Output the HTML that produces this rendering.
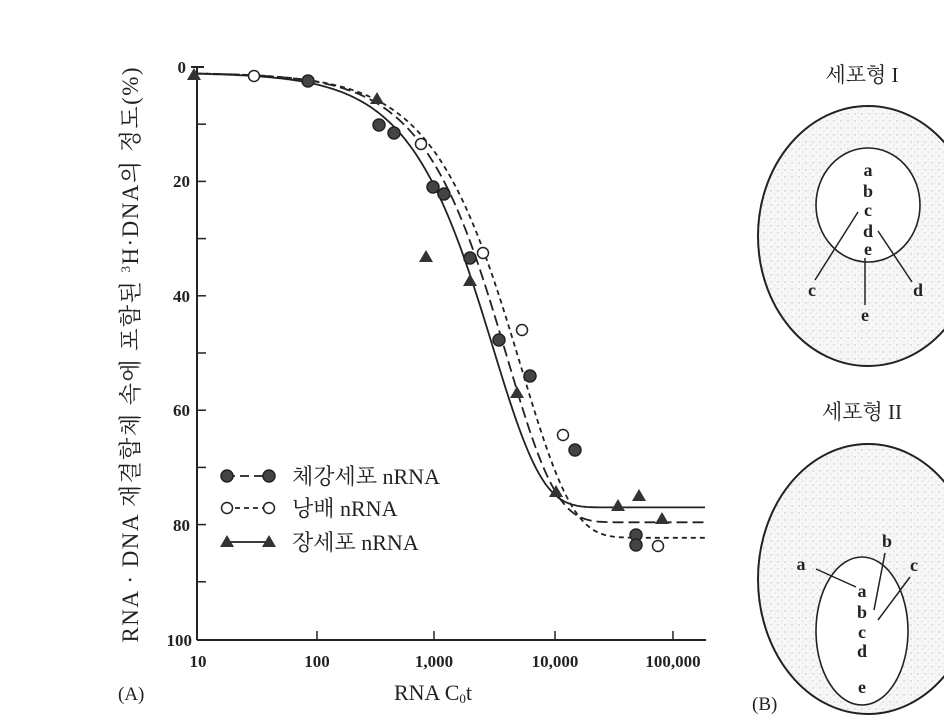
<!DOCTYPE html>
<html><head><meta charset="utf-8"><style>
body{margin:0;background:#fff;}
svg{display:block;font-family:"Liberation Serif","Noto Serif CJK SC","Noto Sans CJK KR",serif;}
</style></head><body>
<svg id="s" width="944" height="726" viewBox="0 0 944 726" xmlns="http://www.w3.org/2000/svg">
<defs>
<pattern id="dots" width="7" height="7" patternUnits="userSpaceOnUse">
<rect width="7" height="7" fill="#f7f7f7"/>
<circle cx="1" cy="2" r="0.6" fill="#aaa"/><circle cx="5" cy="5" r="0.5" fill="#bbb"/><circle cx="4" cy="1" r="0.4" fill="#ccc"/>
</pattern>
</defs>
<g stroke="#222" stroke-width="2" fill="none">
<line x1="197" y1="67" x2="197" y2="640"/>
<line x1="197" y1="640" x2="706" y2="640"/>
<line x1="191" y1="67" x2="204" y2="67"/>
</g>
<g id="ticks" stroke="#222" stroke-width="1.5"></g>
<g font-size="17" font-weight="bold" fill="#222" text-anchor="end">
<text x="186" y="73">0</text><text x="190" y="187">20</text><text x="190" y="302">40</text>
<text x="190" y="416">60</text><text x="190" y="531">80</text><text x="192" y="646">100</text>
</g>
<g font-size="17" font-weight="bold" fill="#222" text-anchor="middle">
<text x="198" y="667">10</text><text x="317" y="667">100</text><text x="434" y="667">1,000</text>
<text x="555" y="667">10,000</text><text x="673" y="667">100,000</text>
</g>
<text x="433" y="700" font-size="22" text-anchor="middle" fill="#222">RNA C<tspan font-size="13" dy="3">0</tspan><tspan dy="-3">t</tspan></text>
<text x="118" y="700" font-size="19" fill="#222">(A)</text>
<text transform="translate(138,355) rotate(-90)" font-size="23" text-anchor="middle" fill="#222" textLength="575" lengthAdjust="spacing">RNA · DNA 재결합체 속에 포함된 <tspan font-size="13" dy="-8">3</tspan><tspan dy="8">H·DNA의 정도(%)</tspan></text>
<g id="curves" fill="none" stroke="#222" stroke-width="1.8"></g>
<g id="pts"></g>
<!-- legend -->
<g stroke="#222" stroke-width="1.8">
<line x1="226" y1="476" x2="268" y2="476" stroke-dasharray="9,5"/>
<line x1="226" y1="508" x2="268" y2="508" stroke-dasharray="5,4"/>
<line x1="226" y1="542" x2="268" y2="542"/>
</g>
<circle cx="227" cy="476" r="6" fill="#444" stroke="#222" stroke-width="1.5"/>
<circle cx="269" cy="476" r="6" fill="#444" stroke="#222" stroke-width="1.5"/>
<circle cx="227" cy="508" r="5.5" fill="#fff" stroke="#222" stroke-width="1.5"/>
<circle cx="269" cy="508" r="5.5" fill="#fff" stroke="#222" stroke-width="1.5"/>
<polygon points="227,535 220,547 234,547" fill="#333"/>
<polygon points="269,535 262,547 276,547" fill="#333"/>
<g font-size="22" fill="#222">
<text x="292" y="484">체강세포 nRNA</text>
<text x="292" y="516">낭배 nRNA</text>
<text x="292" y="550">장세포 nRNA</text>
</g>
<!-- panel B -->
<g font-size="21" fill="#222" text-anchor="middle">
<text x="862" y="82">세포형 I</text>
<text x="862" y="419">세포형 II</text>
</g>
<ellipse cx="868" cy="236" rx="110" ry="130" fill="url(#dots)" stroke="#222" stroke-width="2"/>
<ellipse cx="868" cy="205" rx="52" ry="57" fill="#fff" stroke="#222" stroke-width="1.6"/>
<ellipse cx="868" cy="579" rx="110" ry="135" fill="url(#dots)" stroke="#222" stroke-width="2"/>
<ellipse cx="862" cy="631" rx="46" ry="74" fill="#fff" stroke="#222" stroke-width="1.6"/>
<g stroke="#222" stroke-width="1.5">
<line x1="858" y1="212" x2="815" y2="280"/><line x1="878" y1="231" x2="912" y2="282"/><line x1="865" y1="258" x2="865" y2="305"/>
<line x1="816" y1="569" x2="856" y2="587"/><line x1="885" y1="553" x2="874" y2="610"/><line x1="910" y1="577" x2="878" y2="620"/>
</g>
<g font-size="18" font-weight="bold" fill="#222" text-anchor="middle">
<text x="868" y="176">a</text><text x="868" y="197">b</text><text x="868" y="216">c</text><text x="868" y="237">d</text><text x="868" y="255">e</text>
<text x="812" y="296">c</text><text x="918" y="296">d</text><text x="865" y="321">e</text>
<text x="862" y="597">a</text><text x="862" y="618">b</text><text x="862" y="638">c</text><text x="862" y="657">d</text><text x="862" y="693">e</text>
<text x="801" y="570">a</text><text x="887" y="547">b</text><text x="914" y="571">c</text>
</g>
<text x="752" y="710" font-size="19" fill="#222">(B)</text>
</svg>
<script>
var NS="http://www.w3.org/2000/svg";
function el(p,t,a){var e=document.createElementNS(NS,t);for(var k in a)e.setAttribute(k,a[k]);document.getElementById(p).appendChild(e);return e;}
for(var v=10;v<100;v+=10){var y=67+v*5.72;el("ticks","line",{x1:197,x2:206,y1:y,y2:y});}
[317,434,555,673].forEach(function(x){el("ticks","line",{x1:x,x2:x,y1:631,y2:640});});
function curve(xm,P,n,dash){var d="";for(var x=197;x<=706;x+=2){var r=Math.pow(10,(x-xm)/118.5);var f=1-Math.exp(-Math.pow(r,n));var v=1+(P-1)*f;var y=67+v*5.72;d+=(x==197?"M":"L")+x+","+y.toFixed(1);}var a={d:d};if(dash)a["stroke-dasharray"]=dash;el("curves","path",a);}
curve(493,77,1.05,null);curve(507,79.6,1.05,"11,5");curve(521,82.3,1.0,"5,4");
[[308,81],[379,125],[394,133],[433,187],[444,194],[470,258],[499,340],[530,376],[575,450],[636,535],[636,545]].forEach(function(p){el("pts","circle",{cx:p[0],cy:p[1],r:6,fill:"#444",stroke:"#222","stroke-width":1.5});});
[[254,76],[421,144],[483,253],[522,330],[563,435],[658,546]].forEach(function(p){el("pts","circle",{cx:p[0],cy:p[1],r:5.5,fill:"#fff",stroke:"#222","stroke-width":1.5});});
[[194,75],[377,99],[426,257],[470,281],[517,393],[556,492],[618,506],[639,496],[662,519]].forEach(function(p){el("pts","polygon",{points:p[0]+","+(p[1]-7)+" "+(p[0]-7)+","+(p[1]+5)+" "+(p[0]+7)+","+(p[1]+5),fill:"#333"});});
</script>
</body></html>
